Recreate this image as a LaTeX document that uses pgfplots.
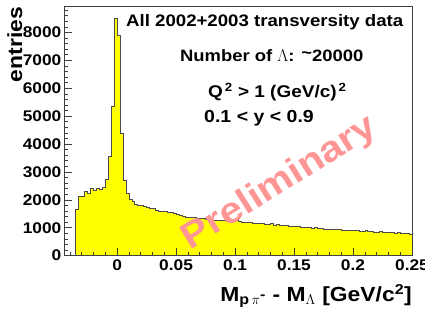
\documentclass[border=0pt]{standalone}
\usepackage{fontspec}
\setmainfont{Liberation Sans}[FakeStretch=1.12]
\usepackage{pgfplots}
\pgfplotsset{compat=1.18}
\usepackage{pgfplotstable}
\definecolor{histyellow}{RGB}{255,255,0}
\definecolor{prelim}{RGB}{255,150,150}
\pgfplotstableread{
x y
-0.035 1660
-0.0325 2110
-0.03 2140
-0.0275 2290
-0.025 2240
-0.0225 2410
-0.02 2350
-0.0175 2400
-0.015 2380
-0.0125 2450
-0.01 2740
-0.0075 3550
-0.005 5370
-0.0025 8500
0 7900
0.0025 4370
0.005 2710
0.0075 2230
0.01 2020
0.0125 1930
0.015 1850
0.0175 1810
0.02 1790
0.0225 1760
0.025 1740
0.0275 1700
0.03 1690
0.0325 1640
0.035 1600
0.0375 1580
0.04 1590
0.0425 1540
0.045 1550
0.0475 1510
0.05 1490
0.0525 1440
0.055 1400
0.0575 1390
0.06 1380
0.0625 1370
0.065 1360
0.0675 1340
0.07 1320
0.0725 1330
0.075 1300
0.0775 1290
0.08 1280
0.0825 1270
0.085 1260
0.0875 1270
0.09 1250
0.0925 1240
0.095 1230
0.0975 1240
0.1 1280
0.1025 1220
0.105 1210
0.1075 1200
0.11 1190
0.1125 1200
0.115 1170
0.1175 1160
0.12 1150
0.1225 1160
0.125 1130
0.1275 1120
0.13 1160
0.1325 1100
0.135 1120
0.1375 1090
0.14 1080
0.1425 1090
0.145 1060
0.1475 1050
0.15 1040
0.1525 1050
0.155 1030
0.1575 1010
0.16 1020
0.1625 1000
0.165 990
0.1675 1000
0.17 980
0.1725 970
0.175 960
0.1775 950
0.18 960
0.1825 940
0.185 930
0.1875 950
0.19 920
0.1925 910
0.195 915
0.1975 900
0.2 890
0.2025 895
0.205 875
0.2075 880
0.21 890
0.2125 860
0.215 855
0.2175 850
0.22 845
0.2225 855
0.225 835
0.2275 840
0.23 825
0.2325 830
0.235 815
0.2375 820
0.24 805
0.2425 795
0.245 790
0.2475 775
0.25 775
}\histdata
\begin{document}
\begin{tikzpicture}
\begin{axis}[
  name=ax,
  scale only axis,
  width=348bp, height=249.6bp,
  xmin=-0.045, xmax=0.25,
  ymin=0, ymax=8950,
  axis line style={black!75, line width=0.6bp},
  tick align=inside,
  xtick pos=bottom, ytick pos=left,
  major tick length=8bp, minor tick length=4bp,
  tick style={black!75, line width=0.6bp},
  xtick={0,0.05,0.1,0.15,0.2,0.25},
  xticklabels={0,0.05,0.1,0.15,0.2,0.25},
  minor xtick={-0.04,-0.03,-0.02,-0.01,0.01,0.02,0.03,0.04,0.06,0.07,0.08,0.09,0.11,0.12,0.13,0.14,0.16,0.17,0.18,0.19,0.21,0.22,0.23,0.24},
  ytick={0,1000,2000,3000,4000,5000,6000,7000,8000},
  yticklabels={0,1000,2000,3000,4000,5000,6000,7000,8000},
  minor ytick={200,400,600,800,1200,1400,1600,1800,2200,2400,2600,2800,3200,3400,3600,3800,4200,4400,4600,4800,5200,5400,5600,5800,6200,6400,6600,6800,7200,7400,7600,7800,8200,8400,8600,8800},
  xticklabel style={font=\fontsize{15.5}{17}\selectfont\bfseries, inner sep=0pt, yshift=-4bp},
  yticklabel style={font=\fontsize{15.5}{17}\selectfont\bfseries, inner sep=0pt, xshift=-2.5bp},
  clip=true,
  axis on top,
]
\addplot[const plot, fill=histyellow, draw=black!70, line width=0.6bp] table[x=x,y=y]{\histdata} \closedcycle;
\end{axis}
\begin{scope}[shift={(ax.south west)}, x=1bp, y=1bp]
  \node[rotate=90, anchor=base east, inner sep=0pt, font=\fontsize{20.5}{22}\selectfont\bfseries] at (-42,248.6) {entries};
  \node[anchor=base east, inner sep=0pt, font=\fontsize{20.5}{22}\selectfont\bfseries] at (348,-46) {M\textsubscript{p\,$\pi^{\textbf{-}}$} - M\textsubscript{$\Lambda$} [GeV/c\textsuperscript{2}]};
  \node[anchor=base west, inner sep=0pt, font=\fontsize{16.7}{18}\selectfont\bfseries] at (62,229) {All 2002+2003 transversity data};
  \node[anchor=base west, inner sep=0pt, font=\fontsize{16.5}{18}\selectfont\bfseries] at (116,194.5) {Number of $\Lambda$: \raisebox{0.25ex}{\~{}}20000};
  \node[anchor=base west, inner sep=0pt, font=\fontsize{17}{18}\selectfont\bfseries] at (144,158) {Q\textsuperscript{\,2} > 1 (GeV/c)\textsuperscript{\,2}};
  \node[anchor=base west, inner sep=0pt, font=\fontsize{17.5}{18}\selectfont\bfseries] at (140,133.5) {0.1 < y < 0.9};
  \node[rotate=32, text=prelim, inner sep=0pt, font=\fontsize{36.5}{40}\selectfont\bfseries] at (216,72) {Preliminary};
\end{scope}
\pgfresetboundingbox
\path ([shift={(-64bp,-63.4bp)}]ax.south west) rectangle ([shift={(13bp,6bp)}]ax.north east);
\end{tikzpicture}
\end{document}
